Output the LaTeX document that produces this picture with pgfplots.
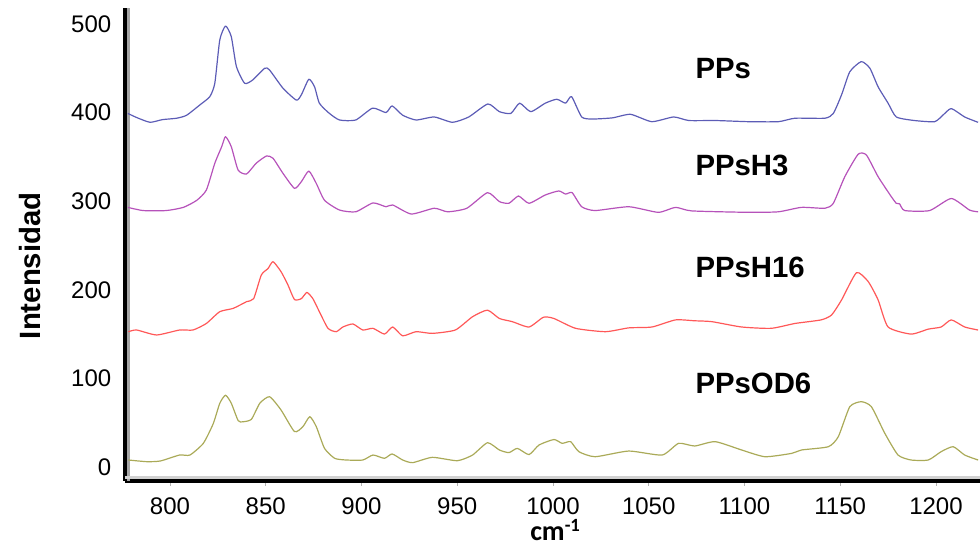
\documentclass[border=0pt]{standalone}
\usepackage{pgfplots}
\pgfplotsset{compat=1.18}
\usepackage{fontspec}
\setmainfont{Liberation Sans}
\newfontfamily\calib{Carlito}
\definecolor{cblue}{RGB}{92,92,182}
\definecolor{cpurp}{RGB}{182,82,186}
\definecolor{cred}{RGB}{255,88,88}
\definecolor{colive}{RGB}{170,170,88}
\begin{document}
\begin{tikzpicture}
\begin{axis}[
  name=ax,
  scale only axis,
  width=641.25pt, height=354.75pt,
  xmin=776.5, xmax=1223,
  ymin=-15.8, ymax=518,
  axis x line=bottom, axis y line=left,
  axis line style={-, line width=3pt, black},
  xtick={800,850,...,1200},
  ytick={0,100,...,500},
  xtick align=outside,
  major tick length=3.5pt,
  xtick style={gray!60, line width=0.6pt},
  ytick style={draw=none},
  ticklabel style={font=\fontsize{18}{20}\selectfont},
  yticklabel style={xshift=-5pt},
  xticklabel style={inner sep=0pt, yshift=-8.5pt},
  /pgf/number format/assume math mode=true,
  /pgf/number format/1000 sep={},
  clip mode=individual,
  every axis plot/.append style={line width=0.9pt, line join=round, smooth, tension=0.35},
]
\draw[black!35, line width=2.4pt] ([xshift=2.7pt]axis description cs:0,0) -- ([xshift=2.7pt]axis description cs:0,1);
\draw[black!18, line width=2pt] ([yshift=2.5pt]axis description cs:0,0) -- ([yshift=2.5pt]axis description cs:1,0);

\addplot[cblue] coordinates {
(778,399)(783,394)(789.6,389)(796,392)(803.5,393.6)(808.7,397)(815.6,408.6)(820.8,418)(823.4,433)(826,482)(829,497.7)(832,485.7)(834.7,451.8)(839,433)(843.2,436.8)(849.5,450)(852,448)(859,427.5)(866,414)(868.6,420)(872.5,437.6)(875.5,429)(878,410.6)(883,399.5)(888.5,391.6)(897,391.6)(905.8,405)(912.8,400)(916,407.5)(921.5,397)(928.5,391.6)(938,395)(947.5,389)(956,395)(966,409.7)(972,401)(978,399)(982.6,410.6)(988.4,401)(996,410.6)(1002,415)(1006.6,410.6)(1009.7,418)(1015,395)(1020.5,392.7)(1031,394)(1040.5,398)(1051.6,389.7)(1063,395)(1071,391)(1085,391)(1102,389.7)(1117.7,389.7)(1126.4,393.6)(1142,393.6)(1146.4,399)(1150.7,420)(1155,446)(1161,457.5)(1165.5,450)(1169.8,429)(1175,410.6)(1179.3,395)(1188.8,391)(1199.3,389.7)(1203.6,397)(1208,404.5)(1215,395)(1222,389)
};
\addplot[cpurp] coordinates {
(778,293)(786,289.4)(798,289.4)(807,293)(814,301)(819,312.6)(823.4,342.8)(827,361.5)(829,372.8)(832,361.5)(835.6,335)(840,330.7)(845,342.8)(850.4,351)(853.8,348.4)(859,331.4)(865,314.5)(868.6,322)(872.5,334)(876.4,320)(880.7,301)(888.5,290)(897,288)(906,298)(912.8,293.7)(916.3,295.7)(926,285.5)(938,292)(945,288)(955,292)(965.8,309.6)(972,299.5)(977,297.6)(982,305.8)(987.5,297.6)(996,307)(1003,311.5)(1006.6,308)(1010,309.6)(1015,293.7)(1022,289.4)(1039.6,293.7)(1055,287.4)(1064,293)(1072.5,289)(1102,287.4)(1117.7,288)(1129.8,293)(1142,292)(1146.4,297.6)(1152.4,327.6)(1159.4,353)(1163.7,352)(1169.8,327.6)(1176.7,305)(1179.3,297.6)(1181,297)(1183.7,289.4)(1196.7,289.4)(1208,303)(1217.5,290)(1222,288)
};
\addplot[cred] coordinates {
(778.3,152.7)(782.6,154.6)(793,149)(805,154.6)(812,154.6)(819,162)(826,175.3)(833,179)(840,186.6)(843.7,190)(847.7,216.7)(851.2,224)(853.8,231.7)(858,220.4)(861.6,205.4)(865,189)(868.6,190)(871.5,197)(874.6,190)(878,175.3)(882.5,156.5)(886.8,152.7)(890.3,158)(895.5,161.4)(900.7,154.6)(906,156.5)(912,150)(916.3,158)(921.5,148)(928.5,152.7)(937,150.8)(949,154.6)(958,169.6)(965.8,177)(972,167.6)(978.8,164)(987.5,158)(995,169)(1000.5,167.6)(1011.8,156.5)(1027.4,152.7)(1039.6,157)(1051.7,158)(1064,166)(1074,165)(1083,164)(1098.5,158)(1114,156.5)(1126.4,162)(1140,166)(1145.5,171.6)(1150.7,188.5)(1158.5,219.3)(1164.6,209.3)(1169.8,188.5)(1175,158)(1187,150)(1196,155.6)(1202.7,158)(1208,166)(1215,158)(1222,154.6)
};
\addplot[colive] coordinates {
(778.3,7.9)(787.9,6)(795,6.8)(805,13.5)(810.4,13.5)(817.4,26.7)(822.6,49)(826,71.9)(829,81)(832,72)(835.6,52.3)(838,51)(842.5,53.8)(846.9,71.9)(852,79.3)(858,64.3)(865,40)(869.4,45.5)(873,56.8)(876.4,45.5)(880.7,21)(886,9.8)(892,7.9)(900.7,7.9)(906,13.5)(912,9.8)(916,14.7)(921.5,7.9)(926.7,4.9)(937,10.9)(950,7.1)(958,13.5)(965.8,27.4)(972,19.2)(977,16.2)(981.4,21)(987.5,14)(992.7,24.8)(1000.5,31)(1004.8,26.7)(1009.2,28.6)(1013.5,17.3)(1022,11.6)(1039.6,18)(1057,13.5)(1065.6,26.7)(1074,23.7)(1084.7,28.6)(1098.5,19.2)(1110.7,11.6)(1124.7,15.4)(1129.8,19.2)(1143.8,22.9)(1149,34.2)(1155,68)(1161,73.7)(1166.3,68)(1173.3,38)(1180.2,13.5)(1187,7.9)(1196,7.9)(1202.7,17.3)(1209,22.9)(1215,13.5)(1222,7.9)
};

\begin{scope}[every node/.style={anchor=west, inner sep=0pt, font=\fontsize{22}{24}\selectfont\bfseries}]
\node at (axis cs:1074.3,450) {PPs};
\node at (axis cs:1074.3,340) {PPsH3};
\node at (axis cs:1074.3,225.7) {PPsH16};
\node at (axis cs:1074.3,94.8) {PPsOD6};
\end{scope}
\node[font=\fontsize{21}{23}\selectfont\calib\bfseries, anchor=base west, inner sep=0pt] at ([yshift=-44.5pt]axis cs:988,-15.8) {cm\raisebox{0.33em}[0pt][0pt]{\fontsize{14}{15}\selectfont -1}};
\node[font=\fontsize{22}{24}\selectfont\bfseries, rotate=90, anchor=center] at (axis description cs:-0.111,0.455) {Intensidad};
\end{axis}
\pgfresetboundingbox
\path[use as bounding box] ([xshift=-93.75pt,yshift=-48.75pt]ax.south west) rectangle ([yshift=6pt]ax.north east);
\end{tikzpicture}
\end{document}
